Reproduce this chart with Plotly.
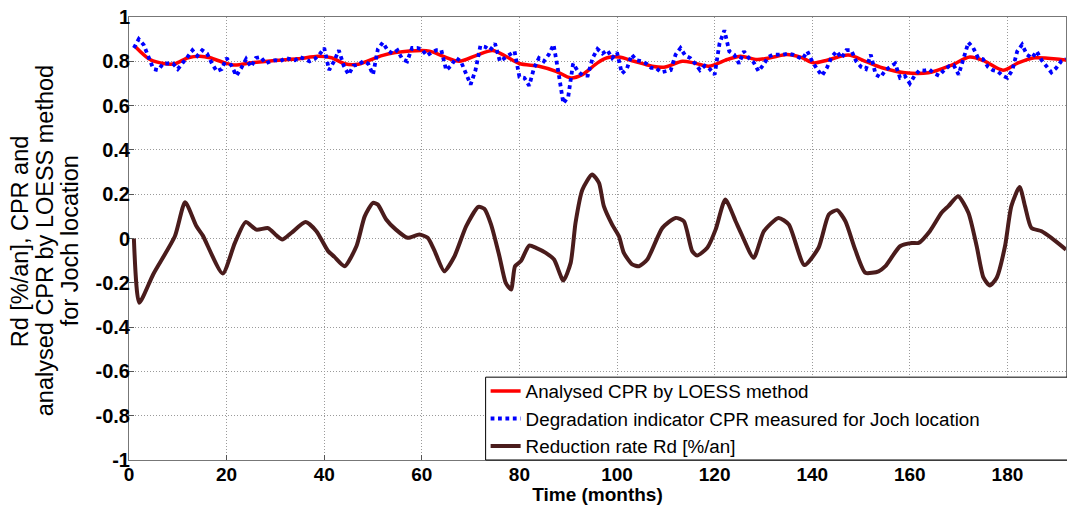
import plotly.graph_objects as go

# ---- data ----
months = list(range(1, 193))
cpr_measured = [
    0.86, 0.90, 0.875, 0.82, 0.765, 0.76, 0.79, 0.79, 0.79, 0.765,
    0.79, 0.82, 0.85, 0.825, 0.85, 0.835, 0.79, 0.755, 0.765, 0.815,
    0.78, 0.735, 0.77, 0.81, 0.775, 0.815, 0.82, 0.79, 0.80, 0.805,
    0.80, 0.815, 0.81, 0.805, 0.82, 0.81, 0.80, 0.81, 0.83, 0.86,
    0.76, 0.80, 0.85, 0.78, 0.74, 0.78, 0.785, 0.80, 0.79, 0.74,
    0.855, 0.885, 0.85, 0.835, 0.85, 0.81, 0.80, 0.86, 0.86, 0.855,
    0.825, 0.84, 0.85, 0.85, 0.76, 0.78, 0.815, 0.80, 0.75, 0.695,
    0.76, 0.87, 0.865, 0.85, 0.88, 0.80, 0.815, 0.83, 0.845, 0.73,
    0.725, 0.69, 0.77, 0.815, 0.80, 0.83, 0.875, 0.75, 0.61, 0.64,
    0.79, 0.755, 0.735, 0.735, 0.815, 0.855, 0.835, 0.85, 0.815, 0.84,
    0.745, 0.765, 0.83, 0.805, 0.80, 0.79, 0.77, 0.77, 0.75, 0.755,
    0.76, 0.83, 0.86, 0.825, 0.815, 0.79, 0.76, 0.78, 0.765, 0.74,
    0.88, 0.94, 0.845, 0.83, 0.79, 0.845, 0.815, 0.795, 0.755, 0.785,
    0.82, 0.83, 0.83, 0.83, 0.835, 0.83, 0.82, 0.81, 0.845, 0.80,
    0.765, 0.735, 0.77, 0.82, 0.845, 0.815, 0.85, 0.85, 0.80, 0.775,
    0.765, 0.83, 0.74, 0.728, 0.76, 0.775, 0.79, 0.725, 0.733, 0.70,
    0.735, 0.76, 0.758, 0.763, 0.745, 0.735, 0.76, 0.778, 0.782, 0.74,
    0.82, 0.885, 0.86, 0.815, 0.81, 0.775, 0.76, 0.755, 0.735, 0.725,
    0.76, 0.845, 0.875, 0.83, 0.815, 0.845, 0.805, 0.78, 0.75, 0.77,
    0.80, 0.81,
]

loess_x = [1.2, 4.3, 7.4, 9.4, 12.1, 14.5, 16.6, 19.6, 21.7, 25.1,
           29.9, 34.6, 38.7, 41.5, 44.2, 47, 52, 57.5, 61.6, 64.3,
           67.7, 71.1, 74.5, 77.2, 80, 84, 87.5, 90.5, 92.9, 96,
           98, 100.4, 103.5, 107.2, 109.6, 113.4, 115.7, 118.8, 122.6, 125.3,
           128.7, 131.4, 134.8, 137.6, 140.3, 143.2, 147.4, 150.9, 154.3, 159,
           163.8, 168.6, 172.3, 175.4, 179.1, 182.2, 185.6, 191, 192]
loess_y = [0.868, 0.808, 0.789, 0.789, 0.816, 0.823, 0.816, 0.793, 0.783, 0.793,
           0.804, 0.811, 0.823, 0.816, 0.789, 0.787, 0.827, 0.846, 0.846, 0.823,
           0.800, 0.826, 0.849, 0.823, 0.79, 0.778, 0.755, 0.725, 0.74, 0.793,
           0.816, 0.819, 0.8, 0.778, 0.773, 0.8, 0.793, 0.778, 0.808, 0.823,
           0.808, 0.816, 0.831, 0.819, 0.793, 0.806, 0.828, 0.80, 0.771, 0.748,
           0.748, 0.783, 0.819, 0.80, 0.76, 0.793, 0.816, 0.808, 0.806]

rd_x = [1, 2.1, 5, 9.4, 11.5, 13.8, 15.1, 19.2, 21.7, 23.9,
        26.1, 28.5, 30.2, 31.4, 33.3, 36.2, 38.4, 40.8, 42.1, 44.2,
        46.6, 48.3, 50, 51, 52.7, 54.7, 57.1, 59.5, 61.2, 62.5,
        64.6, 66.7, 69.1, 71.6, 72.8, 74.2, 75.9, 77.2, 78.3, 79.1,
        80.3, 82, 83.4, 85.4, 87.1, 89, 90.5, 91.5, 92.9, 94.9,
        96.3, 97.3, 99, 100.4, 101.4, 103.1, 104.5, 106.2, 109.3, 112,
        113.7, 115.4, 116.4, 118.5, 120.2, 122.2, 124.3, 125.5, 128, 130.1,
        133.1, 135.2, 138.4, 141.3, 143.4, 145.1, 146.8, 148.8, 150.9, 153.6,
        155, 158, 160.4, 161.8, 164.1, 166.5, 167.9, 169.9, 172, 173.7,
        175.1, 176.4, 177.8, 179.5, 180.8, 182.5, 183.6, 184.9, 187, 189,
        192]
rd_y = [0, -0.29, -0.16, 0.01, 0.164, 0.056, 0.014, -0.158, -0.02, 0.074,
        0.04, 0.047, 0.014, -0.005, 0.026, 0.074, 0.033, -0.057, -0.083, -0.125,
        -0.035, 0.1, 0.161, 0.153, 0.086, 0.04, 0.003, 0.018, 0.003, -0.05,
        -0.148, -0.08, 0.056, 0.143, 0.134, 0.063, -0.08, -0.2, -0.23, -0.125,
        -0.102, -0.032, -0.042, -0.065, -0.095, -0.19, -0.11, 0.071, 0.22, 0.289,
        0.251, 0.146, 0.063, 0.01, -0.065, -0.117, -0.125, -0.095, 0.048, 0.093,
        0.078, -0.057, -0.077, -0.042, 0.04, 0.176, 0.078, 0.02, -0.087, 0.033,
        0.093, 0.063, -0.12, -0.042, 0.108, 0.128, 0.078, -0.05, -0.155, -0.148,
        -0.125, -0.035, -0.02, -0.02, 0.033, 0.116, 0.146, 0.191, 0.116, -0.035,
        -0.177, -0.212, -0.177, -0.035, 0.146, 0.233, 0.146, 0.048, 0.033, 0.003,
        -0.05]

x_ticks = [0, 20, 40, 60, 80, 100, 120, 140, 160, 180]
y_ticks = [-1, -0.8, -0.6, -0.4, -0.2, 0, 0.2, 0.4, 0.6, 0.8, 1]
y_tick_labels = ["-1", "-0.8", "-0.6", "-0.4", "-0.2", "0", "0.2", "0.4", "0.6", "0.8", "1"]
y_title_lines = ["Rd [%/an], CPR and", "analysed CPR by LOESS method", "for Joch location"]

FONT = "Liberation Sans, Arial, sans-serif"

fig = go.Figure()
fig.add_trace(go.Scatter(
    x=loess_x, y=loess_y, mode="lines", name="Analysed CPR by LOESS method",
    line=dict(color="#ff0000", width=3.5, shape="spline", smoothing=0.8)))
fig.add_trace(go.Scatter(
    x=months, y=cpr_measured, mode="lines",
    name="Degradation indicator CPR measured for Joch location",
    line=dict(color="#0000ff", width=3.8, dash="3.8px,3.6px")))
fig.add_trace(go.Scatter(
    x=rd_x, y=rd_y, mode="lines", name="Reduction rate Rd [%/an]",
    line=dict(color="#4a1c1c", width=4, shape="spline", smoothing=0.6)))

# legend frame (extends past the right edge as in the reference)
fig.add_shape(type="rect", xref="paper", yref="paper",
              x0=0.3806, x1=1.02, y0=0, y1=0.187,
              line=dict(color="black", width=1), fillcolor="white", layer="above")

# three-line y-axis title, as rotated annotations
for xp, line_text in zip([-0.1162, -0.0896, -0.0629], y_title_lines):
    fig.add_annotation(text=line_text, xref="paper", yref="paper", x=xp, y=0.494,
                       textangle=-90, showarrow=False, xanchor="center", yanchor="middle",
                       font=dict(size=23.5, family=FONT, color="black"))

fig.update_layout(
    width=1067, height=505, autosize=False,
    margin=dict(l=129, r=1, t=17, b=45),
    paper_bgcolor="white", plot_bgcolor="white",
    font=dict(family=FONT, color="black"),
    showlegend=True,
    legend=dict(x=0.3806, y=-0.012, xanchor="left", yanchor="bottom",
                bgcolor="rgba(0,0,0,0)", borderwidth=0,
                font=dict(size=18.8, family=FONT, color="black"),
                tracegroupgap=0),
)
fig.update_xaxes(
    range=[0, 192], tickvals=x_ticks, ticks="inside", ticklen=5, tickcolor="#555",
    showgrid=True, gridcolor="#9a9a9a", griddash="1px,2px", gridwidth=1,
    showline=True, linecolor="#777", linewidth=1, mirror=True, zeroline=False,
    automargin=False, ticklabelstandoff=-3,
    tickfont=dict(size=19, family=FONT, color="black", weight="bold"),
    title=dict(text="<b>Time (months)</b>", font=dict(size=19, family=FONT), standoff=0),
)
fig.update_yaxes(
    range=[-1, 1], tickvals=y_ticks, ticktext=y_tick_labels, ticks="inside", ticklen=5,
    tickcolor="#555", automargin=False, ticklabelstandoff=-6,
    showgrid=True, gridcolor="#9a9a9a", griddash="1px,2px", gridwidth=1,
    showline=True, linecolor="#777", linewidth=1, mirror=True, zeroline=False,
    tickfont=dict(size=20, family=FONT, color="black", weight="bold"),
)

fig.write_html(
    "out.html",
    config={"responsive": False, "displayModeBar": False},
    default_width="1067px", default_height="505px",
    post_script="document.body.style.margin='0';document.body.style.overflow='hidden';",
)
